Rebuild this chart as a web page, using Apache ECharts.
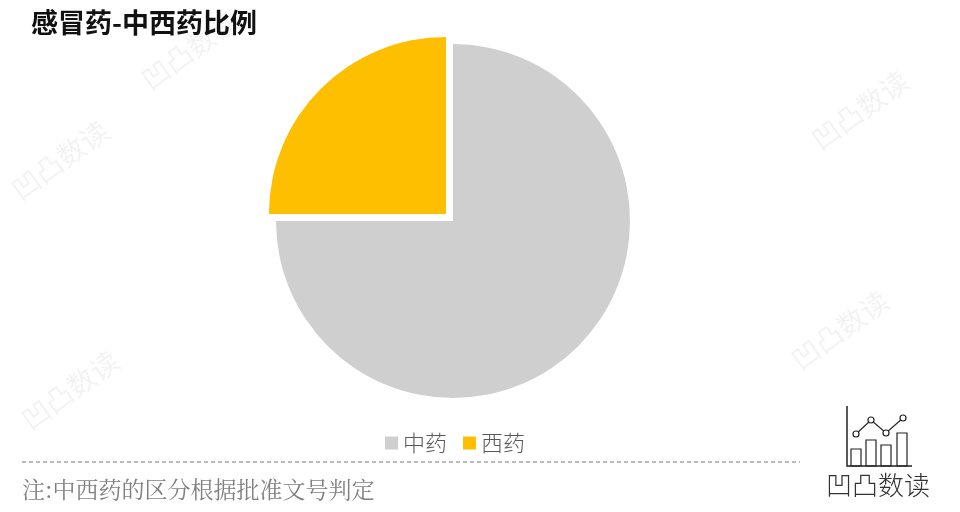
<!DOCTYPE html>
<html>
<head>
<meta charset="utf-8">
<script src="https://cdn.jsdelivr.net/npm/echarts@6/dist/echarts.min.js"></script>
<style>
  html, body { margin: 0; padding: 0; background: #fff; }
  #chart { width: 960px; height: 512px; }
</style>
</head>
<body>
<div id="chart"></div>
<script>
  // 数据
  const categories = ['中药', '西药'];
  const values = [75, 25];
  const colors = ['#d0cfd0', '#fdbf00'];
  const selectedName = '西药';

  const chartDom = document.getElementById('chart');
  const myChart = echarts.init(chartDom);

  // 水印
  const markFont = '28px "Noto Sans CJK SC"';
  const watermarks = [
    [60, 160], [190, 50], [860, 110], [840, 330], [70, 390]
  ].map(p => ({
    type: 'text',
    x: p[0], y: p[1],
    rotation: Math.PI / 5,
    style: { text: '凹凸数读', font: markFont, fill: 'rgba(0,0,0,0.05)', align: 'center', verticalAlign: 'middle' },
    z: -1,
  }));

  // 右下角 logo
  const logo = [
    { type: 'polyline', shape: { points: [[847, 406], [847, 466], [912, 466]] }, style: { stroke: '#222', lineWidth: 1.5, fill: null } },
    { type: 'rect', shape: { x: 851, y: 449, width: 10, height: 17 }, style: { stroke: '#222', fill: null, lineWidth: 1.2 } },
    { type: 'rect', shape: { x: 866, y: 440, width: 10, height: 26 }, style: { stroke: '#222', fill: null, lineWidth: 1.2 } },
    { type: 'rect', shape: { x: 881, y: 445, width: 10, height: 21 }, style: { stroke: '#222', fill: null, lineWidth: 1.2 } },
    { type: 'rect', shape: { x: 897, y: 433, width: 10, height: 33 }, style: { stroke: '#222', fill: null, lineWidth: 1.2 } },
    { type: 'polyline', shape: { points: [[856, 434], [871, 420], [886, 433], [903, 418]] }, style: { stroke: '#222', lineWidth: 1.2, fill: null } },
    ...[[856, 434], [871, 420], [886, 433], [903, 418]].map(p => ({
      type: 'circle', shape: { cx: p[0], cy: p[1], r: 3 }, style: { stroke: '#222', fill: '#fff', lineWidth: 1.2 }, z: 101
    })),
    { type: 'text', x: 878, y: 485, style: { text: '凹凸数读', font: '300 26px "Noto Sans CJK SC"', fill: '#333', align: 'center', verticalAlign: 'middle' } },
  ];

  const option = {
    backgroundColor: '#fff',
    color: colors,
    title: {
      text: '感冒药-中西药比例',
      left: 26,
      top: 4,
      textStyle: { fontFamily: 'Noto Sans CJK SC', fontSize: 27, fontWeight: 'bold', color: '#111' },
    },
    legend: {
      data: categories,
      left: 380,
      top: 427,
      itemWidth: 13,
      itemHeight: 13,
      itemGap: 16,
      icon: 'rect',
      textStyle: { fontFamily: 'Noto Sans CJK SC', fontSize: 22, fontWeight: 300, color: '#595959' },
      selectedMode: false,
    },
    graphic: [
      ...watermarks,
      {
        type: 'line',
        shape: { x1: 22, y1: 462, x2: 800, y2: 462 },
        style: { stroke: '#777', lineWidth: 1, lineDash: [4, 3] },
      },
      {
        type: 'text', x: 22, y: 489,
        style: { text: '注:中西药的区分根据批准文号判定', font: '23px "Noto Serif CJK SC", "Noto Sans CJK SC"', fill: '#808080', verticalAlign: 'middle' },
      },
      ...logo,
    ],
    series: [
      {
        type: 'pie',
        center: [453, 221],
        radius: [0, 177],
        startAngle: 90,
        clockwise: true,
        selectedMode: 'single',
        selectedOffset: 10,
        label: { show: false },
        labelLine: { show: false },
        emphasis: { scale: false },
        data: categories.map((name, i) => ({
          name,
          value: values[i],
          selected: name === selectedName,
        })),
      },
    ],
  };
  option && myChart.setOption(option);
</script>
</body>
</html>
